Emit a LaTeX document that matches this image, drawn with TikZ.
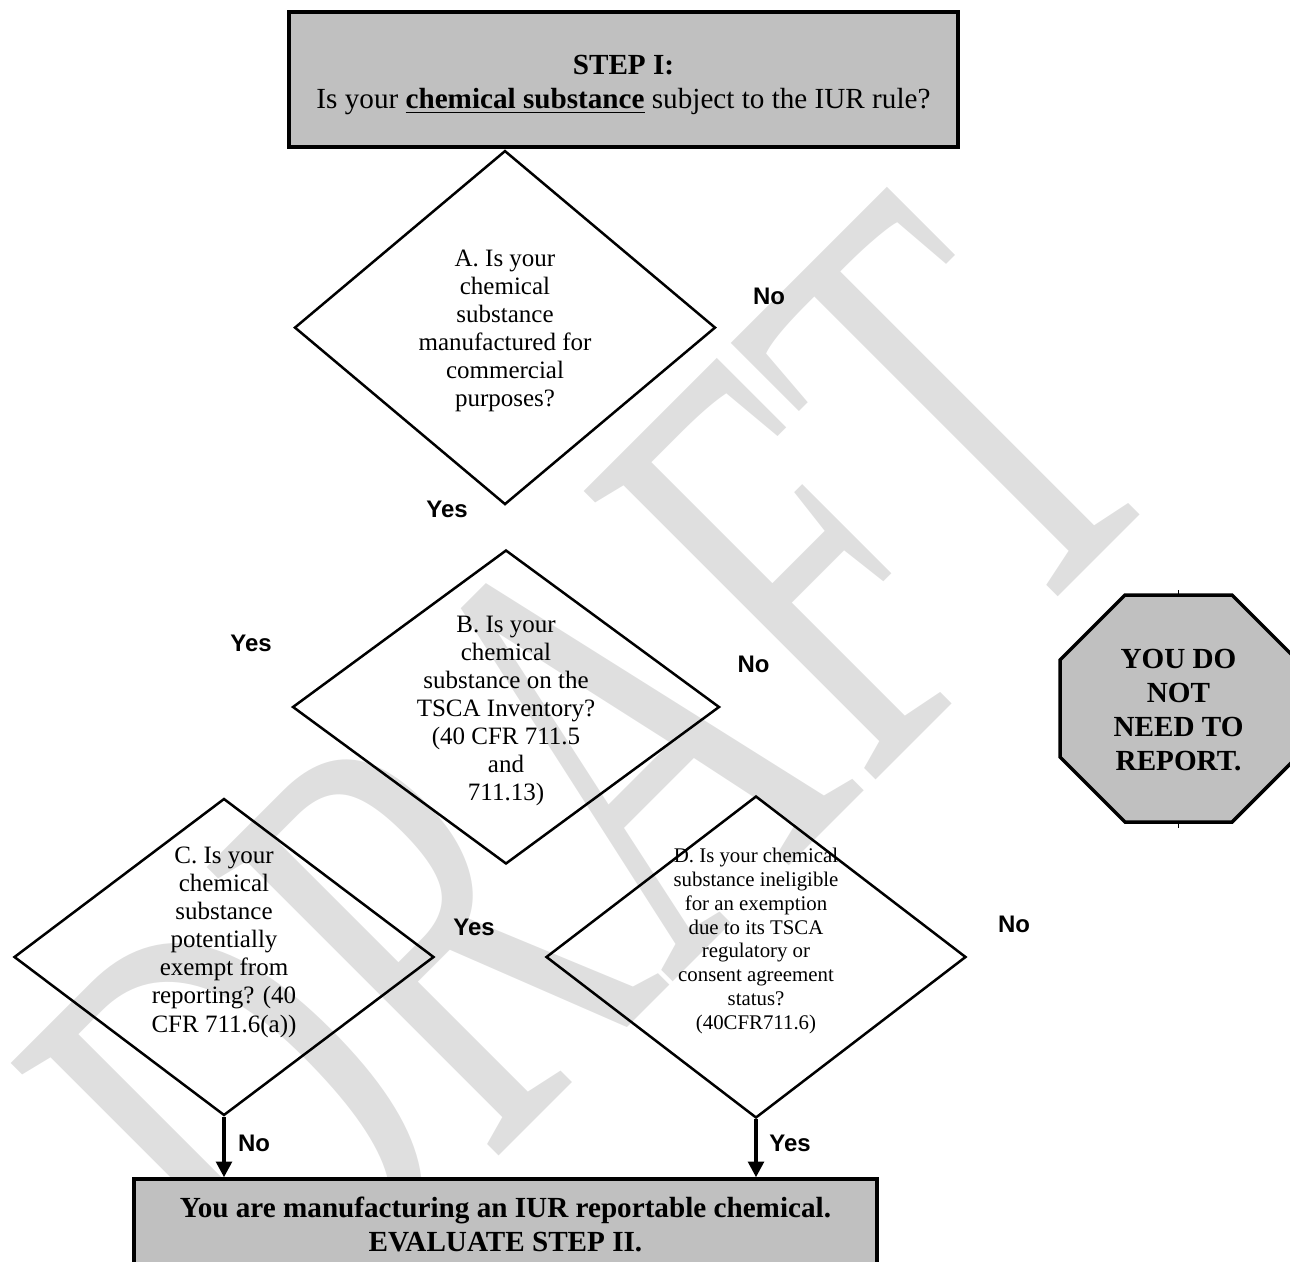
\documentclass[tikz,border=0pt]{standalone}
\usepackage{fontspec}
\setmainfont{Liberation Serif}
\newfontfamily\answerfont{Liberation Sans}
\usepackage{graphicx}
\usetikzlibrary{shapes.geometric,arrows.meta}
\definecolor{boxgray}{HTML}{C0C0C0}
\definecolor{draftgray}{HTML}{DFDFDF}
\newdimen\pu \pu=0.48pt

\begin{document}
\begin{tikzpicture}[x=0.48pt,y=-0.48pt,
  stepbox/.style={draw,line width=3.5\pu,fill=boxgray,align=center,inner sep=0pt},
  question/.style={diamond,draw,line width=2.5\pu,inner sep=0pt},
  qtext/.style={align=center,inner sep=0pt,font=\fontsize{12}{13.5}\selectfont},
  answer/.style={inner sep=0pt,font=\answerfont\bfseries\fontsize{11.5}{13}\selectfont},
  flow/.style={line width=3.5\pu,-{Triangle[width=7.5pt,length=7.5pt]}}]
\useasboundingbox (0,0) rectangle (1290,1262);
\clip (0,0) rectangle (1290,1262);
%watermark
\node[anchor=base west,rotate=45,inner sep=0pt,text=draftgray,font=\fontsize{184}{184}\selectfont] (draft) at (293.5,1361.5) {\scalebox{1}[1.635]{DRAFT}};
%step I
\node[stepbox,minimum width=669\pu,minimum height=135\pu] (step) at (623.5,79.5) {};
\node[align=center,inner sep=0pt,font=\fontsize{14}{16.5}\selectfont] (stepText) at (623.5,85) {\textbf{STEP I:}\\Is your \textbf{\underline{chemical substance}} subject to the IUR rule?};
%questions
\node[question,minimum width=421\pu,minimum height=354\pu] (A) at (505,327.6) {};
\node[question,minimum width=427\pu,minimum height=314\pu] (B) at (506,707) {};
\node[question,minimum width=420\pu,minimum height=317\pu] (C) at (224,957) {};
\node[question,minimum width=420\pu,minimum height=322\pu] (D) at (756,957) {};
\node[qtext] (Atext) at (505,331) {A. Is your\\chemical\\substance\\manufactured for\\commercial\\purposes?};
\node[qtext] (Btext) at (506,711) {B. Is your\\chemical\\substance on the\\TSCA Inventory?\\(40 CFR 711.5\\and\\711.13)};
\node[qtext] (Ctext) at (224,942) {C. Is your\\chemical\\substance\\potentially\\exempt from\\reporting? (40\\CFR 711.6(a))};
\node[qtext,font=\fontsize{10}{11.4}\selectfont] (Dtext) at (756,941) {D. Is your chemical\\substance ineligible\\for an exemption\\due to its TSCA\\regulatory or\\consent agreement\\status?\\(40CFR711.6)};
%stop sign
\draw[line width=3.5\pu,fill=boxgray] (1125,595) -- (1232,595) -- (1297,660) -- (1297,757) -- (1232,822) -- (1125,822) -- (1060,757) -- (1060,660) -- cycle;
\draw[thin] (1178.5,590) -- (1178.5,595);
\draw[thin] (1178.5,822) -- (1178.5,828);
\node[align=center,inner sep=0pt,font=\bfseries\fontsize{14}{16.3}\selectfont] (stop) at (1178.5,710) {YOU DO\\NOT\\NEED TO\\REPORT.};
%answers
\node[answer] (ansANo) at (769,296) {No};
\node[answer] (ansAYes) at (447,509.5) {Yes};
\node[answer] (ansBYes) at (251,643) {Yes};
\node[answer] (ansBNo) at (753.6,664) {No};
\node[answer] (ansCYes) at (474,927) {Yes};
\node[answer] (ansDNo) at (1014,924) {No};
\node[answer] (ansCNo) at (254,1143) {No};
\node[answer] (ansDYes) at (790,1143) {Yes};
%result
\node[stepbox,minimum width=743\pu,minimum height=90\pu,font=\bfseries\fontsize{14}{16.3}\selectfont] (evaluate) at (505.5,1224) {You are manufacturing an IUR reportable chemical.\\EVALUATE STEP II.};
\draw[flow] (C.south) -- (C.south |- evaluate.north);
\draw[flow] (D.south) -- (D.south |- evaluate.north);
\end{tikzpicture}
\end{document}
